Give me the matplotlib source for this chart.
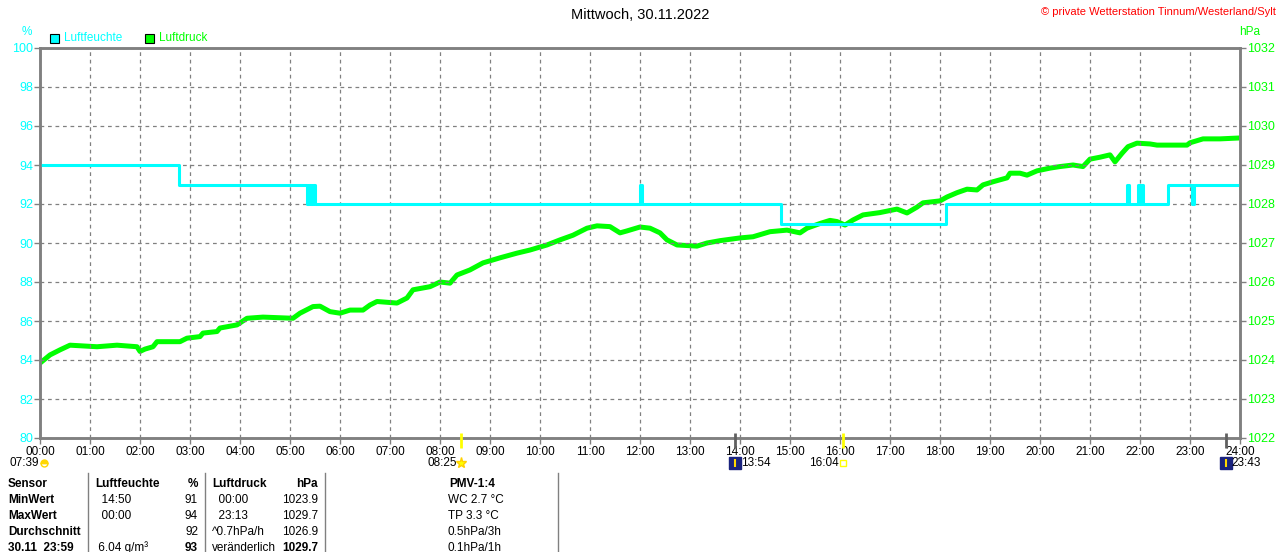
import matplotlib
matplotlib.use("Agg")
import matplotlib.pyplot as plt
import numpy as np

plt.rcParams['font.family'] = ['Liberation Sans', 'DejaVu Sans']

CYAN = "#00FFFF"
GREEN = "#00FF00"
GRAY = "#808080"

title = "Mittwoch, 30.11.2022"
copyright_text = "© private Wetterstation Tinnum/Westerland/Sylt"

# humidity (%), step values, time in hours
hum_t = [0, 2.78, 5.34, 5.38, 5.42, 5.46, 5.5, 12.0, 12.04, 14.82, 18.12,
         21.74, 21.78, 21.96, 22.0, 22.02, 22.06, 22.56, 23.04, 23.08, 24.0]
hum_v = [94, 93, 92, 93, 92, 93, 92, 93, 92, 91, 92,
         93, 92, 93, 92, 93, 92, 93, 92, 93, 93]

# air pressure (hPa)
pres_t = [0, 0.2, 0.4, 0.6, 1.14, 1.54, 1.94, 2.0, 2.1, 2.26, 2.34, 2.8, 2.94,
          3.2, 3.26, 3.54, 3.6, 3.94, 4.14, 4.46, 5.06, 5.2, 5.46, 5.6, 5.8,
          6.0, 6.2, 6.46, 6.6, 6.74, 7.14, 7.34, 7.46, 7.8, 8.0, 8.2, 8.34,
          8.6, 8.86, 9.2, 9.54, 9.8, 10.14, 10.4, 10.66, 10.94, 11.14, 11.4,
          11.6, 11.74, 12.0, 12.2, 12.4, 12.54, 12.74, 13.14, 13.34, 13.6,
          14.0, 14.26, 14.6, 14.94, 15.2, 15.34, 15.6, 15.8, 15.94, 16.1,
          16.26, 16.46, 16.8, 17.14, 17.34, 17.54, 17.66, 18.0, 18.14, 18.34,
          18.54, 18.74, 18.86, 19.06, 19.34, 19.4, 19.6, 19.74, 19.94, 20.2,
          20.4, 20.66, 20.86, 21.0, 21.2, 21.4, 21.5, 21.64, 21.76, 21.94,
          22.2, 22.34, 22.94, 23.0, 23.26, 23.6, 23.94]
pres_v = [1023.92, 1024.13, 1024.26, 1024.38, 1024.34, 1024.38, 1024.34,
          1024.22, 1024.28, 1024.34, 1024.47, 1024.47, 1024.56, 1024.6,
          1024.69, 1024.73, 1024.82, 1024.9, 1025.07, 1025.1, 1025.07,
          1025.2, 1025.37, 1025.38, 1025.24, 1025.2, 1025.28, 1025.28,
          1025.41, 1025.5, 1025.46, 1025.59, 1025.8, 1025.88, 1026.0,
          1025.97, 1026.18, 1026.31, 1026.49, 1026.62, 1026.74, 1026.82,
          1026.95, 1027.08, 1027.2, 1027.38, 1027.44, 1027.42, 1027.26,
          1027.31, 1027.41, 1027.38, 1027.26, 1027.08, 1026.95, 1026.92,
          1027.0, 1027.06, 1027.13, 1027.16, 1027.29, 1027.33, 1027.26,
          1027.38, 1027.5, 1027.58, 1027.55, 1027.46, 1027.59, 1027.72,
          1027.78, 1027.87, 1027.77, 1027.92, 1028.03, 1028.08, 1028.18,
          1028.29, 1028.38, 1028.36, 1028.49, 1028.57, 1028.67, 1028.79,
          1028.79, 1028.74, 1028.85, 1028.92, 1028.96, 1029.0, 1028.96,
          1029.15, 1029.2, 1029.26, 1029.08, 1029.3, 1029.47, 1029.56,
          1029.54, 1029.51, 1029.51, 1029.57, 1029.67, 1029.67, 1029.69]

hours = list(range(25))
hour_labels = ["%02d:00" % h for h in hours]

# sun / moon events (hours, label)
sun_t = [8 + 25 / 60, 16 + 4 / 60]
moon_t = [13 + 54 / 60, 23 + 43 / 60]
dawn_label = "07:39"
sunrise_label = "08:25"
sunset_label = "16:04"
moonrise_label = "13:54"
moonset_label = "23:43"

# statistics table
table_rows = [
    ["Sensor", "Luftfeuchte", "%", "Luftdruck", "hPa", "PMV-1:4"],
    ["MinWert", "  14:50", "91", "  00:00", "1023.9", "WC 2.7 °C"],
    ["MaxWert", "  00:00", "94", "  23:13", "1029.7", "TP 3.3 °C"],
    ["Durchschnitt", "", "92", "^0.7hPa/h", "1026.9", "0.5hPa/3h"],
    ["30.11  23:59", " 6.04 g/m³", "93", "veränderlich", "1029.7", "0.1hPa/1h"],
]

W, H = 1280, 552
fig = plt.figure(figsize=(W / 100, H / 100), dpi=100)


def fx(x):
    return x / W


def fy(y):
    return 1 - y / H


ax = fig.add_axes([fx(40), fy(438), 1200 / W, 390 / H])
ax2 = ax.twinx()

# pressure drawn below humidity
ax.set_zorder(2)
ax2.set_zorder(1)
ax.patch.set_visible(False)

ax2.plot(pres_t, pres_v, color=GREEN, lw=3.6, solid_joinstyle="round")
ax.plot(hum_t, hum_v, color=CYAN, lw=2.2, drawstyle="steps-post")

ax.set_xlim(0, 24)
ax.set_ylim(80, 100)
ax2.set_ylim(1022, 1032)
ax.set_xticks(hours)
ax.set_xticklabels(hour_labels)
ax.set_yticks(range(80, 101, 2))
ax2.set_yticks(range(1022, 1033))

ax.grid(True, color=GRAY, linestyle=(0, (3, 3)), lw=0.9)
for a in (ax, ax2):
    for s in a.spines.values():
        s.set_color(GRAY)
        s.set_linewidth(1.8)

ax.tick_params(axis="x", colors=GRAY, labelcolor="black", labelsize=8.5,
               length=4, width=1, pad=2)
ax.tick_params(axis="y", colors=GRAY, labelcolor=CYAN, labelsize=9,
               length=4, width=1, pad=1)
ax2.tick_params(axis="y", colors=GRAY, labelcolor=GREEN, labelsize=9,
                length=4, width=1, pad=1)

# sun and moon marks on the time axis
trans = ax.get_xaxis_transform()
ax.vlines(sun_t, -0.026, 0.013, color="#FFFF00", lw=2, transform=trans,
          clip_on=False, zorder=5)
ax.vlines(moon_t, -0.026, 0.013, color="#606060", lw=2, transform=trans,
          clip_on=False, zorder=5)

ev_y = -0.064
ax.annotate(dawn_label, (0, ev_y), xycoords=trans, xytext=(-31, 0),
            textcoords="offset pixels", fontsize=8.5, va="center")
ax.plot([0.07], [ev_y], transform=trans, marker="o", ms=5,
        color="#FFD700", mec="#FFD700", clip_on=False, fillstyle="top")
ax.annotate(sunrise_label, (sun_t[0], ev_y), xycoords=trans, xytext=(-4, 0),
            textcoords="offset pixels", fontsize=8.5, va="center", ha="right")
ax.plot([sun_t[0]], [ev_y], transform=trans, marker="*", ms=8,
        color="#FFFF00", mec="#FFD000", clip_on=False)
ax.annotate(sunset_label, (sun_t[1], ev_y), xycoords=trans, xytext=(-5, 0),
            textcoords="offset pixels", fontsize=8.5, va="center", ha="right")
ax.plot([sun_t[1]], [ev_y], transform=trans, marker="s", ms=4,
        mfc="none", mec="#FFFF00", clip_on=False)
for t, lab in zip(moon_t, [moonrise_label, moonset_label]):
    ax.plot([t], [ev_y], transform=trans, marker="s", ms=8,
            color="#1A237E", clip_on=False)
    ax.plot([t], [ev_y], transform=trans, marker="|", ms=6, mew=1.5,
            color="#FFD700", clip_on=False)
    ax.annotate(lab, (t, ev_y), xycoords=trans, xytext=(6, 0),
                textcoords="offset pixels", fontsize=8.5, va="center")

# header texts
fig.text(0.5, fy(15), title, ha="center", va="center", fontsize=10.5)
fig.text(fx(1276), fy(12), copyright_text, ha="right", va="center",
         fontsize=8, color="red")
fig.text(fx(27), fy(32), "%", ha="center", va="center", fontsize=8.5,
         color=CYAN)
fig.text(fx(1250), fy(32), "hPa", ha="center", va="center", fontsize=8.5,
         color=GREEN)
for x0, lab, col in [(50, "Luftfeuchte", CYAN), (145, "Luftdruck", GREEN)]:
    fig.patches.append(plt.Rectangle((fx(x0), fy(43)), 9 / W, 9 / H,
                                     transform=fig.transFigure,
                                     facecolor=col, edgecolor="black", lw=0.8))
    fig.text(fx(x0 + 14), fy(38), lab, ha="left", va="center",
             fontsize=8.5, color=col)

# statistics table
row_y = [484, 500, 516, 532, 548]
col_x = [8, 95, 198, 212, 318, 448]
col_ha = ["left", "left", "right", "left", "right", "left"]
for r, row in enumerate(table_rows):
    for c, txt in enumerate(row):
        bold = r == 0 or c == 0 or (r == 4 and c in (2, 4))
        x = col_x[c]
        ha = col_ha[c]
        if c == 5 and r == 0:
            x, ha = 472, "center"
        fig.text(fx(x), fy(row_y[r]), txt, ha=ha, va="center", fontsize=8.5,
                 fontweight="bold" if bold else "normal")
for sx in [88, 205, 325, 558]:
    fig.add_artist(plt.Line2D([fx(sx), fx(sx)], [fy(473), fy(552)],
                              transform=fig.transFigure, color=GRAY, lw=1))

fig.savefig("out.png", dpi=100)
